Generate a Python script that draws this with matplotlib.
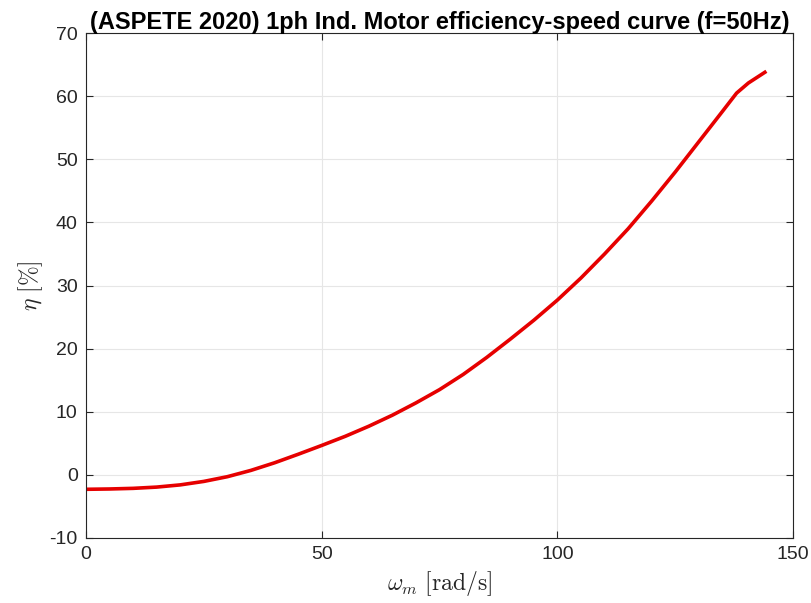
import numpy as np
import matplotlib.pyplot as plt

plt.rcParams['mathtext.fontset'] = 'cm'
plt.rcParams['font.family'] = ['Liberation Sans', 'DejaVu Sans']
plt.rcParams['axes.unicode_minus'] = False

# speed [rad/s] and efficiency [%]
wm = [0, 5, 10, 15, 20, 25, 30, 35, 40, 45, 50, 55, 60, 65, 70, 75, 80, 85, 90,
      95, 100, 105, 110, 115, 120, 125, 130, 135, 138, 140.5, 144]
eta = [-2.3, -2.25, -2.15, -1.95, -1.6, -1.05, -0.3, 0.7, 1.9, 3.25, 4.65,
       6.1, 7.7, 9.45, 11.4, 13.5, 15.9, 18.6, 21.5, 24.5, 27.7, 31.2, 35.0,
       39.0, 43.4, 48.0, 52.8, 57.6, 60.5, 62.1, 63.8]

fig = plt.figure(figsize=(8.11, 6.03), dpi=100)
ax = fig.add_axes([0.106, 0.108, 0.872, 0.837])

ax.plot(wm, eta, color='#e60000', linewidth=2.6)

ax.set_xlim(0, 150)
ax.set_ylim(-10, 70)
ax.set_xticks([0, 50, 100, 150])
ax.set_yticks(np.arange(-10, 71, 10))
ax.grid(True, color='#e6e6e6', linewidth=0.8)
ax.tick_params(direction='in', top=True, right=True, labelsize=14,
               colors='#262626', length=5, pad=6)
for s in ax.spines.values():
    s.set_color('#262626')
    s.set_linewidth(0.8)

ax.set_xlabel(r'$\omega_m\ \mathrm{[rad/s]}$', fontsize=17, color='#262626')
ax.set_ylabel(r'$\eta\ [\%]$', fontsize=17, color='#262626', labelpad=3)
ax.set_title('(ASPETE 2020) 1ph Ind. Motor efficiency-speed curve (f=50Hz)',
             fontsize=17, fontweight='bold', pad=3)

fig.savefig('out.png', dpi=100)
